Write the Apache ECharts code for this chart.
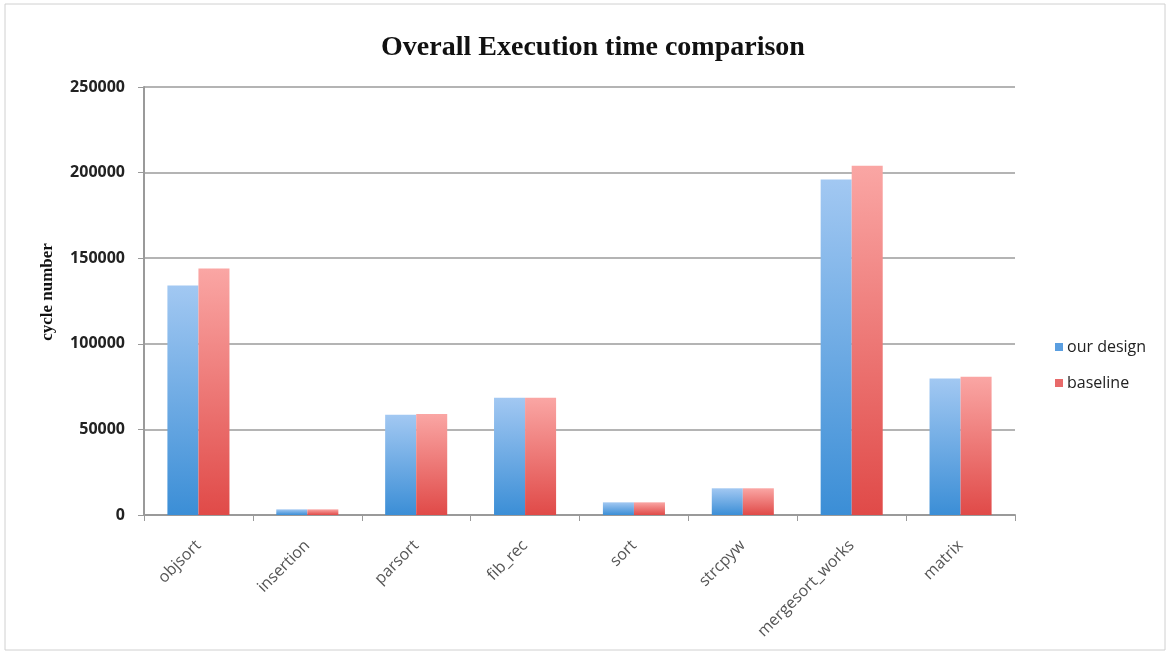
<!DOCTYPE html>
<html>
<head>
<meta charset="utf-8">
<script src="https://cdn.jsdelivr.net/npm/echarts@6/dist/echarts.min.js"></script>
<style>
    html, body { margin: 0; padding: 0; background: #fff; }
    #main { width: 1172px; height: 655px; }
</style>
</head>
<body>
<div id="main"></div>
<script>
var categories = ['objsort', 'insertion', 'parsort', 'fib_rec', 'sort', 'strcpyw', 'mergesort_works', 'matrix'];
var ourDesign = [134000, 3300, 58500, 68500, 7400, 15600, 196000, 79800];
var baseline = [144000, 3300, 59000, 68500, 7400, 15600, 204000, 80800];

function grad(top, bottom) {
    return new echarts.graphic.LinearGradient(0, 0, 0, 1, [
        {offset: 0, color: top},
        {offset: 1, color: bottom}
    ]);
}

var chart = echarts.init(document.getElementById('main'));
var option = {
    backgroundColor: '#fff',
    animation: false,
    title: {
        text: 'Overall Execution time comparison',
        left: 588,
        textAlign: 'center',
        top: 29,
        textStyle: {
            fontFamily: 'Liberation Serif',
            fontWeight: 'bold',
            fontSize: 28,
            color: '#111'
        }
    },
    legend: {
        orient: 'vertical',
        left: 1050,
        top: 334,
        itemGap: 20,
        itemWidth: 8,
        itemHeight: 8,
        icon: 'rect',
        textStyle: {fontFamily: 'Open Sans', fontSize: 16, color: '#222', padding: [0, 0, 0, -1]},
        data: [
            {name: 'our design', itemStyle: {color: '#5a9ee0'}},
            {name: 'baseline', itemStyle: {color: '#e86a6a'}}
        ]
    },
    grid: {left: 144, right: 157, top: 87, bottom: 140},
    xAxis: {
        type: 'category',
        data: categories,
        axisLine: {lineStyle: {color: '#9a9a9a', width: 2}},
        axisTick: {show: true, length: 6, lineStyle: {color: '#9a9a9a'}},
        axisLabel: {
            rotate: 45,
            margin: 28,
            fontFamily: 'Open Sans',
            fontSize: 16,
            color: '#555'
        }
    },
    yAxis: {
        type: 'value',
        min: 0,
        max: 250000,
        interval: 50000,
        name: 'cycle number',
        nameLocation: 'middle',
        nameGap: 88,
        nameRotate: 90,
        nameTextStyle: {
            fontFamily: 'Liberation Serif',
            fontWeight: 'bold',
            fontSize: 17,
            color: '#111',
            padding: [0, 0, 0, 18]
        },
        axisLine: {show: true, lineStyle: {color: '#9a9a9a', width: 2}},
        axisTick: {show: true, length: 6, lineStyle: {color: '#9a9a9a'}},
        axisLabel: {
            margin: 19,
            fontFamily: 'Open Sans',
            fontSize: 16,
            fontWeight: 'bold',
            color: '#222',
            formatter: function (v) { return String(v); }
        },
        splitLine: {lineStyle: {color: '#b4b4b4', width: 2}}
    },
    series: [
        {
            name: 'our design',
            type: 'bar',
            data: ourDesign,
            barGap: '0%',
            barCategoryGap: '43%',
            itemStyle: {color: grad('#a2c8f2', '#3b8ed6')}
        },
        {
            name: 'baseline',
            type: 'bar',
            data: baseline,
            itemStyle: {color: grad('#faa6a4', '#e04a48')}
        }
    ],
    graphic: [{
        type: 'rect',
        shape: {x: 5, y: 4, width: 1160, height: 646},
        style: {fill: null, stroke: '#d0d0d0', lineWidth: 1}
    }]
};
chart.setOption(option);
</script>
</body>
</html>
